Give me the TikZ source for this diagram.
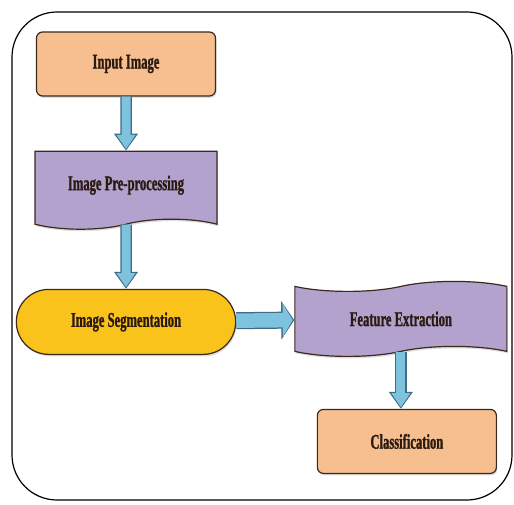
\documentclass[tikz,border=0pt]{standalone}
\usepackage{fontspec}
\newfontfamily\boxfont[FakeStretch=0.6,FakeBold=1]{Liberation Serif}
\usetikzlibrary{arrows.meta,positioning,shapes.symbols,shapes.misc,shadows}
\definecolor{boxorange}{HTML}{F7BF8F}
\definecolor{boxpurple}{HTML}{B3A2CE}
\definecolor{boxyellow}{HTML}{F9C31C}
\definecolor{boxedge}{HTML}{3B2A1C}
\definecolor{flowblue}{HTML}{7EC3DD}
\definecolor{flowedge}{HTML}{3F6B86}
\definecolor{labelbrown}{HTML}{2A1A10}
\tikzset{
  stage/.style={draw=boxedge,line width=1.2pt,align=center,text=labelbrown,
    font=\boxfont\bfseries\fontsize{21}{23}\selectfont,
    drop shadow={opacity=0.25,shadow xshift=1pt,shadow yshift=-2pt}},
  endbox/.style={stage,fill=boxorange,rounded corners=6pt,minimum width=179pt,minimum height=64pt},
  wavebox/.style={stage,fill=boxpurple,tape,tape bend height=10pt},
  roundbox/.style={stage,fill=boxyellow,rounded rectangle,minimum width=226pt,minimum height=65pt},
  flowarrow/.style={draw=flowblue,line width=9pt,shorten >=1.6pt,-{Triangle[length=14pt,width=18pt]},
    preaction={draw=flowedge,line width=11.5pt,shorten >=0pt,-{Triangle[length=17pt,width=23pt]}}},
  widearrow/.style={draw=flowblue,line width=14.5pt,shorten >=1.6pt,-{Triangle[length=10pt,width=33pt]},
    preaction={draw=flowedge,line width=17pt,shorten >=0pt,-{Triangle[length=13pt,width=38pt]}}}
}
\begin{document}
\begin{tikzpicture}
\useasboundingbox (0,0) rectangle (514pt,-505pt);
\draw[line width=1.2pt,rounded corners=45pt] (12pt,-12pt) rectangle (512pt,-500pt);
\node[endbox] (input) at (126pt,-64pt) {Input Image};
\node[wavebox,tape bend top=none,minimum width=182pt,minimum height=78pt,below=54pt of input] (prep) {Image Pre-processing};
\node[roundbox,below=69pt of prep] (seg) {Image Segmentation};
\node[wavebox,minimum width=212pt,minimum height=75pt,right=58pt of seg,yshift=3pt] (feat) {Feature Extraction};
\node[endbox,below=57pt of feat,xshift=6pt] (cls) {Classification};
\draw[flowarrow] (input)--(prep);
\draw[flowarrow] (prep)--(seg);
\draw[widearrow] (seg)--(feat);
\draw[flowarrow] (feat.south)--(feat.south|-cls.north);
\end{tikzpicture}
\end{document}
